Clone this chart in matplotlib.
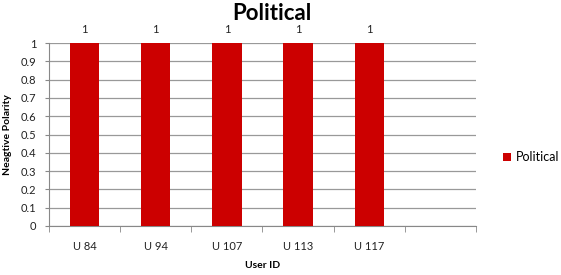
import matplotlib
matplotlib.use("Agg")
import matplotlib.pyplot as plt
import numpy as np

categories = ["U 84", "U 94", "U 107", "U 113", "U 117", ""]
values = [1, 1, 1, 1, 1, None]
series_name = "Political"

plt.rcParams['font.family'] = ['Lato', 'DejaVu Sans']

fig = plt.figure(figsize=(5.61, 2.75), dpi=100)
ax = fig.add_axes([49/561, 1-226/275, (476-49)/561, (226-43)/275])

x = np.arange(len(categories))
vals = [v if v is not None else 0 for v in values]
mask = [v is not None for v in values]
bars = ax.bar(x[mask], np.array(vals)[mask], width=0.41, color="#CC0000", label=series_name, zorder=3)
for xi, v in zip(x[mask], np.array(vals)[mask]):
    ax.annotate(f"{v:g}", (xi, v), xytext=(0, 6), textcoords="offset points",
                ha="center", va="bottom", fontsize=8, color="#222222", annotation_clip=False)

ax.set_xlim(-0.5, len(categories) - 0.5)
ax.set_ylim(0, 1)
ax.set_yticks(np.arange(0, 1.01, 0.1))
ax.set_yticklabels(["0"] + [f"{t:.1f}" for t in np.arange(0.1, 0.95, 0.1)] + ["1"])
ax.yaxis.grid(True, color="#999999", linewidth=0.9, zorder=0)
ax.set_xticks(x)
ax.set_xticklabels(categories)
ax.set_xticks(np.arange(-0.5, len(categories), 1), minor=True)
ax.tick_params(axis="x", which="major", length=0, pad=11, labelsize=8, labelcolor="#222222")
ax.tick_params(axis="x", which="minor", length=4, color="#888888")
ax.tick_params(axis="y", length=3, color="#888888", labelsize=8, labelcolor="#222222", pad=6)
for s in ["top", "right"]:
    ax.spines[s].set_visible(False)
ax.spines["left"].set_color("#888888")
ax.spines["bottom"].set_color("#888888")

fig.text(272/561, 1-20/275, "Political", ha="center", va="baseline", fontsize=16, fontweight="bold")
fig.text(263/561, 1-265/275, "User ID", ha="center", va="center", fontsize=7.5, fontweight="bold")
fig.text(8/561, 1-135/275, "Neagtive Polarity", ha="center", va="center", rotation=90, fontsize=7.5, fontweight="bold")

leg = fig.legend(handles=[bars], labels=[series_name], loc="center left",
                 bbox_to_anchor=(492/561, 1-157/275), frameon=False, fontsize=9,
                 handlelength=0.6, handleheight=0.6, handletextpad=0.4)

fig.savefig("out.png", dpi=100)
